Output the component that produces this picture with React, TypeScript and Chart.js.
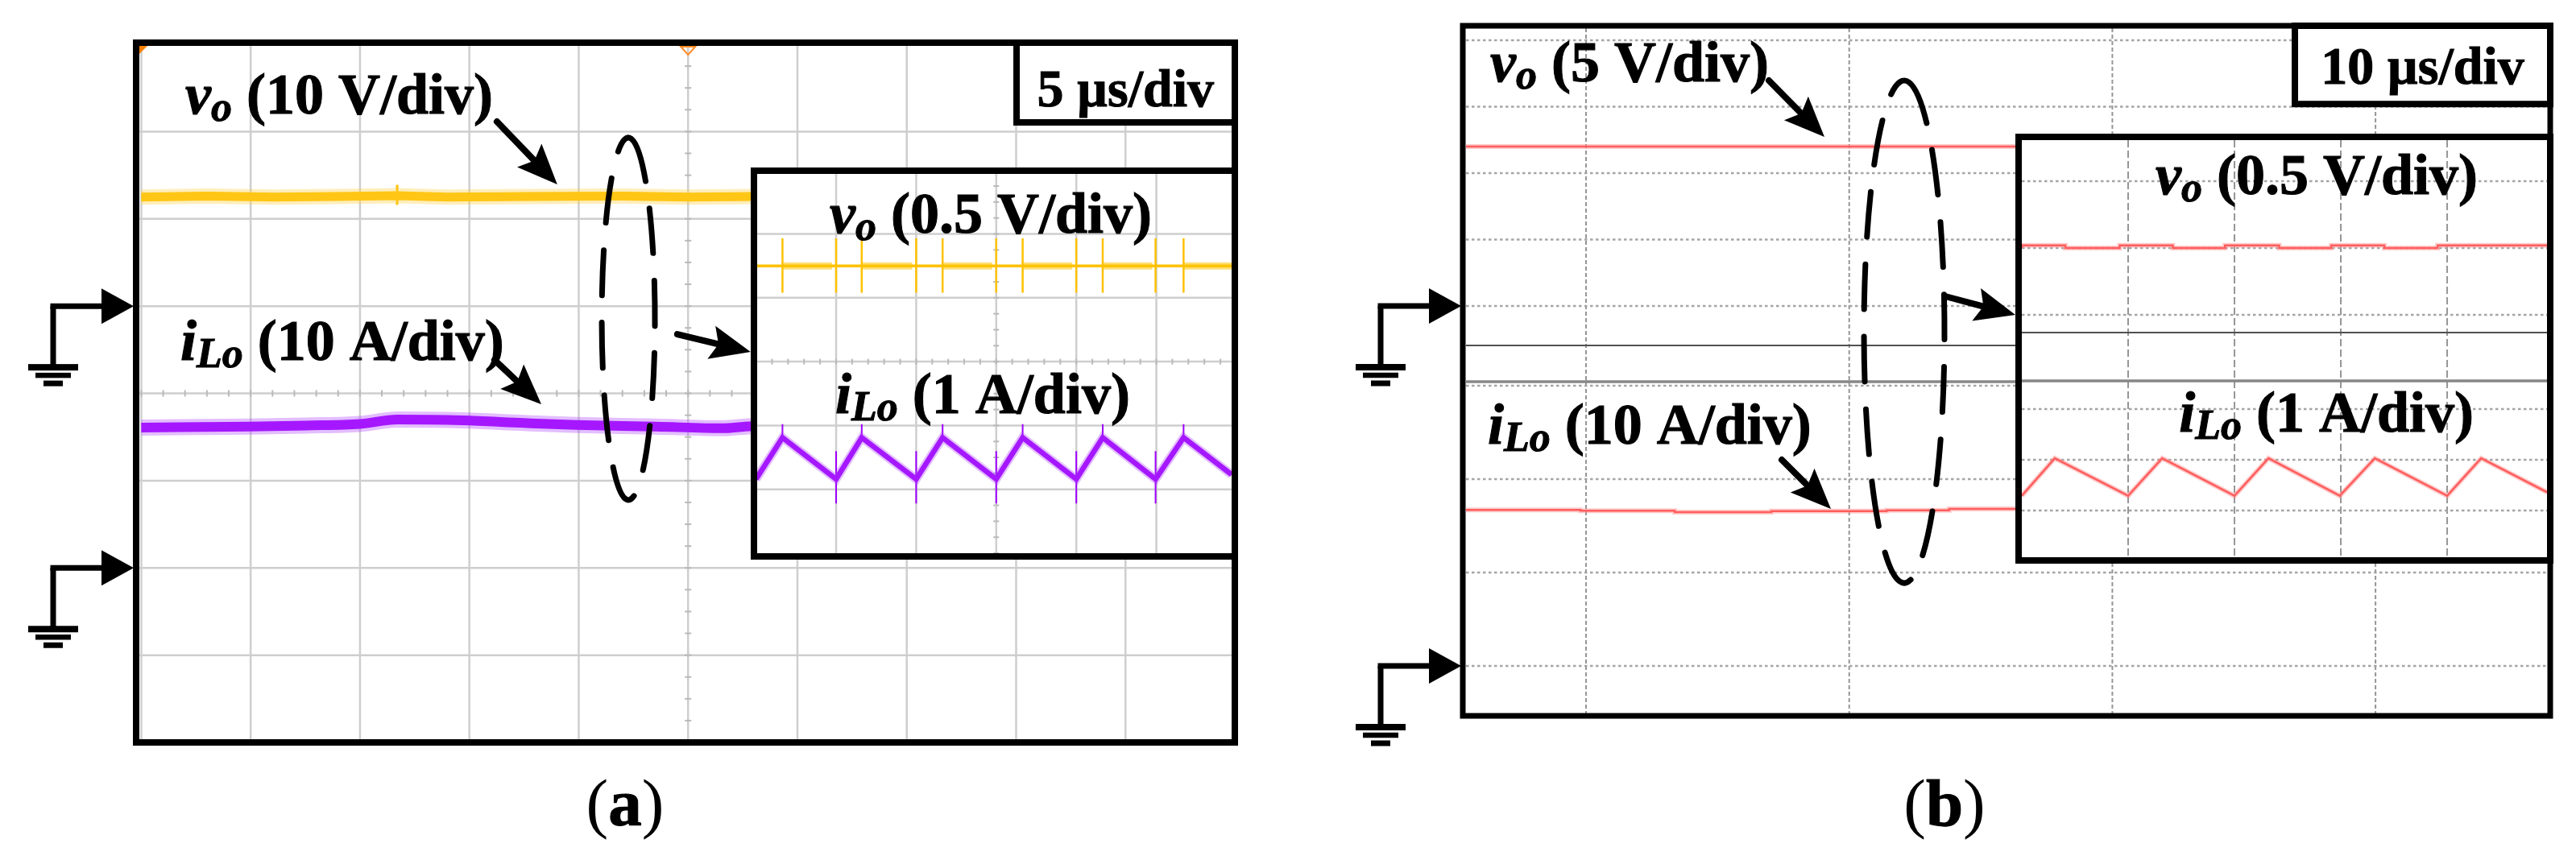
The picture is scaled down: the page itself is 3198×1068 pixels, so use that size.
import React, { useEffect, useRef } from 'react';
import { Chart, registerables } from 'chart.js';

Chart.register(...registerables);

/* ================= data ================= */
// (a) main screen: time in µs (5 µs/div), vo in V (10 V/div), iLo in A (10 A/div)
const A_VO_T_US = [0, 3, 6, 9, 11.7, 14, 18, 22, 25, 28.2];
const A_VO_V = [12.5, 12.6, 12.5, 12.55, 12.65, 12.5, 12.55, 12.6, 12.5, 12.55];
const A_VO_SPIKE_T_US = [11.7];
const A_VO_SPIKE_RANGE_V = [11.6, 13.9];
const A_ILO_T_US = [0, 4.96, 7.5, 10, 11.7, 14.7, 17.5, 19.9, 23.5, 26.6, 27.6, 28.2];
const A_ILO_A = [16.08, 16.2, 16.32, 16.5, 17.0, 16.9, 16.6, 16.38, 16.2, 16.0, 16.2, 16.26];

// (a) inset: x in divisions, vo 0.5 V/div, iLo 1 A/div
const AI_VO_X = [0, 5.94];
const AI_VO_V = [12.5, 12.5];
const AI_VO_SPIKE_X = [0.33, 1.0, 1.32, 2.0, 2.33, 3.0, 3.33, 4.0, 4.33, 4.99, 5.34];
const AI_VO_SPIKE_RANGE_V = [12.29, 12.715];
const AI_VO_RING_START_X = [0.33, 1.32, 2.33, 3.33, 4.33, 5.34];
const AI_VO_RING_END_X = [0.95, 1.95, 2.95, 3.95, 4.95, 5.94];
const AI_ILO_X = [0, 0.33, 1.0, 1.32, 2.0, 2.33, 3.0, 3.33, 4.0, 4.33, 4.99, 5.34, 5.94];
const AI_ILO_A = [15.96, 16.61, 15.96, 16.61, 15.96, 16.61, 15.96, 16.61, 15.96, 16.61, 15.96, 16.61, 16.03];
const AI_ILO_PEAK_X = [0.33, 1.32, 2.33, 3.33, 4.33, 5.34];
const AI_ILO_PEAK_SPIKE_A = [16.61, 16.82];
const AI_ILO_VALLEY_X = [1.0, 2.0, 3.0, 4.0, 4.99];
const AI_ILO_VALLEY_SPIKE_A = [15.58, 16.4];

// (b) main screen: time in µs (10 µs/div), vo 5 V/div, iLo 10 A/div
const B_VO_T_US = [-4.56, 16.5];
const B_VO_V = [12.0, 12.0];
const B_ILO_T_US = [-4.56, -0.21, 3.37, 7.04, 11.42, 13.8, 14.5, 16.5];
const B_ILO_A = [16.8, 16.71, 16.61, 16.47, 16.58, 16.66, 16.81, 16.81];

// (b) inset: x in divisions, vo 0.5 V/div, iLo 1 A/div
const BI_VO_X = [0, 0.41, 0.92, 1.42, 1.91, 2.42, 2.91, 3.41, 3.91, 4.41, 4.94];
const BI_VO_V = [12.0, 12.02, 12.0, 12.02, 12.0, 12.02, 12.0, 12.02, 12.0, 12.02, 12.02];
const BI_ILO_X = [0, 0.31, 1.0, 1.32, 2.0, 2.32, 2.99, 3.32, 4.0, 4.32, 4.94];
const BI_ILO_A = [16.29, 17.03, 16.29, 17.03, 16.29, 17.03, 16.29, 17.03, 16.29, 17.03, 16.36];

// grid values
const A_TIME_GRID_US = [0, 5, 10, 15, 20, 25, 30, 35, 40, 45, 50];
const A_DIV_GRID = [0, 1, 2, 3, 4, 5, 6, 7, 8];
const AI_DIV_GRID_X = [1, 2, 3, 4, 5];
const AI_DIV_GRID_Y = [1, 2, 3, 4, 5];
const B_TIME_GRID_US = [0, 10, 20, 30];
const B_VO_GRID_V = [0, 5, 10, 15, 20];
const B_ILO_GRID_A = [0, 10, 20, 30];
const BI_DIV_GRID_X = [1, 2, 3, 4];
const BI_VO_GRID_V = [11.5, 12.0, 12.5];
const BI_ILO_GRID_A = [16, 17, 18];

// texts
const A_TIMEBASE = '5 µs/div';
const B_TIMEBASE = '10 µs/div';
const A_VO_SCALE = '10 V/div';
const A_ILO_SCALE = '10 A/div';
const B_VO_SCALE = '5 V/div';
const B_ILO_SCALE = '10 A/div';
const INSET_VO_SCALE = '0.5 V/div';
const INSET_ILO_SCALE = '1 A/div';

// annotation anchors (in each chart's own scale units)
const A_VO_LABEL_AT = [2.01, 7.21];
const A_ILO_LABEL_AT = [1.79, 4.383];
const A_VO_ARROW = [16.26, 7.114, 19.02, 6.394];
const A_ILO_ARROW = [16.15, 4.383, 18.29, 3.875];
const A_ELLIPSE = [22.27, 4.854, 1.215, 2.076];
const A_ZOOM_ARROW = [24.51, 4.678, 27.86, 4.475];
const A_TIMEBOX = [40.02, 7.105];
const A_TIMEBASE_AT = [45, 7.292];
const A_CAPTION_AT = [22.12, -0.95];
const A_TRIGGER_US = 25;

const B_VO_LABEL_AT = [-3.642, 16.909];
const B_ILO_LABEL_AT = [-3.734, 23.793];
const B_VO_ARROW = [6.948, 16.97, 9.06, 12.727];
const B_ILO_ARROW = [7.438, 22.069, 9.305, 16.81];
const B_ELLIPSE = [12.091, -1.939, 1.53, 18.909];
const B_ZOOM_ARROW = [13.652, 0.727, 16.315, -0.667];
const B_TIMEBOX = [26.936, 15.2];
const B_TIMEBASE_AT = [31.788, 16.75];
const B_CAPTION_AT = [13.621, -17.07];
const B_SEPARATORS_V = [-2.97, -5.697];

const AI_VO_LABEL_AT = [2.931, 5.019];
const AI_ILO_LABEL_AT = [2.831, 2.192];
const BI_VO_LABEL_AT = [2.773, 12.404];
const BI_ILO_LABEL_AT = [2.864, 17.556];
const BI_SEPARATORS_V = [11.367, 11.006];

/* ================= styles ================= */
const SERIF = '"Liberation Serif", "Times New Roman", serif';
const LABEL_SIZE = 72;
const TIMEBASE_SIZE = 66;
const CAPTION_SIZE = 83;
const YELLOW = 'rgb(255,194,0)';
const YELLOW_FUZZ = 'rgba(255,205,60,0.35)';
const PURPLE = 'rgb(160,0,255)';
const PURPLE_FUZZ = 'rgba(175,70,255,0.35)';
const RED = 'rgb(255,55,55)';
const RED_FUZZ = 'rgba(255,140,140,0.45)';

/* ================= helpers ================= */
const pts = (xs: number[], ys: number[]) => xs.map((x, i) => ({ x, y: ys[i] }));
const spikes = (xs: number[], range: number[]) =>
  xs.flatMap((x) => [{ x, y: range[0] }, { x, y: range[1] }, { x, y: null as any }]);
const segs = (starts: number[], ends: number[], y: number) =>
  starts.flatMap((s, i) => [{ x: s, y }, { x: ends[i], y }, { x: ends[i], y: null as any }]);

const ds = (data: any[], yAxisID: string, color: string, width: number, extra: any = {}) => ({
  data, yAxisID, borderColor: color, backgroundColor: color, borderWidth: width,
  pointRadius: 0, fill: false, tension: 0, ...extra,
});

const lin = (min: number, max: number) => ({ type: 'linear', min, max, display: false });

function hline(ctx: any, x1: number, x2: number, y: number) {
  ctx.beginPath(); ctx.moveTo(x1, y); ctx.lineTo(x2, y); ctx.stroke();
}
function vline(ctx: any, x: number, y1: number, y2: number) {
  ctx.beginPath(); ctx.moveTo(x, y1); ctx.lineTo(x, y2); ctx.stroke();
}

type Part = { t: string; k: 'b' | 'bi' | 'sub' | 'r' };
function drawRich(ctx: any, parts: Part[], x: number, y: number, size: number, align: 'left' | 'center') {
  const font = (k: string) =>
    k === 'b' ? `bold ${size}px ${SERIF}` :
    k === 'bi' ? `italic bold ${size}px ${SERIF}` :
    k === 'sub' ? `italic bold ${Math.round(size * 0.72)}px ${SERIF}` :
    `${size}px ${SERIF}`;
  ctx.save();
  ctx.textBaseline = 'alphabetic';
  ctx.textAlign = 'left';
  ctx.fillStyle = '#000';
  ctx.strokeStyle = '#000';
  const widths = parts.map((p) => { ctx.font = font(p.k); return ctx.measureText(p.t).width; });
  const total = widths.reduce((a, b) => a + b, 0);
  let cx = align === 'center' ? x - total / 2 : x;
  parts.forEach((p, i) => {
    ctx.font = font(p.k);
    const yy = p.k === 'sub' ? y + size * 0.125 : y;
    ctx.fillText(p.t, cx, yy);
    if (p.k !== 'r') { ctx.lineWidth = 1.1; ctx.strokeText(p.t, cx, yy); }
    cx += widths[i];
  });
  ctx.restore();
}
const voParts = (s: string): Part[] => [{ t: 'v', k: 'bi' }, { t: 'o', k: 'sub' }, { t: ` (${s})`, k: 'b' }];
const iloParts = (s: string): Part[] => [{ t: 'i', k: 'bi' }, { t: 'Lo', k: 'sub' }, { t: ` (${s})`, k: 'b' }];
const capParts = (s: string): Part[] => [{ t: '(', k: 'r' }, { t: s, k: 'b' }, { t: ')', k: 'r' }];

function arrow(ctx: any, x1: number, y1: number, x2: number, y2: number) {
  const hl = 50, hw = 21, lw = 8;
  const a = Math.atan2(y2 - y1, x2 - x1);
  const c = Math.cos(a), s = Math.sin(a);
  const bx = x2 - hl * c, by = y2 - hl * s;
  ctx.save();
  ctx.strokeStyle = '#000'; ctx.fillStyle = '#000'; ctx.lineWidth = lw; ctx.lineCap = 'round';
  ctx.beginPath(); ctx.moveTo(x1, y1); ctx.lineTo(bx + 12 * c, by + 12 * s); ctx.stroke();
  ctx.beginPath();
  ctx.moveTo(x2, y2);
  ctx.lineTo(bx - hw * s, by + hw * c);
  ctx.lineTo(bx + 9 * c, by + 9 * s);
  ctx.lineTo(bx + hw * s, by - hw * c);
  ctx.closePath(); ctx.fill();
  ctx.restore();
}

function dashedEllipse(ctx: any, cx: number, cy: number, rx: number, ry: number) {
  ctx.save();
  ctx.strokeStyle = '#000'; ctx.lineWidth = 7; ctx.lineCap = 'round';
  ctx.setLineDash([56, 34]);
  ctx.beginPath(); ctx.ellipse(cx, cy, rx, ry, 0, -Math.PI / 2 + 0.12, Math.PI * 1.5 + 0.12); ctx.stroke();
  ctx.restore();
}

function ground(ctx: any, tipX: number, y: number) {
  ctx.save();
  ctx.fillStyle = '#000'; ctx.strokeStyle = '#000';
  ctx.beginPath(); ctx.moveTo(tipX, y); ctx.lineTo(tipX - 40, y - 22); ctx.lineTo(tipX - 40, y + 22); ctx.closePath(); ctx.fill();
  const sx = tipX - 100;
  ctx.lineWidth = 7; ctx.lineCap = 'butt';
  ctx.beginPath(); ctx.moveTo(sx - 3.5, y); ctx.lineTo(tipX - 38, y); ctx.stroke();
  ctx.beginPath(); ctx.moveTo(sx, y); ctx.lineTo(sx, y + 76); ctx.stroke();
  const bar = (dy: number, w: number, h: number) => ctx.fillRect(sx - w / 2, y + dy - h / 2, w, h);
  bar(76, 62, 8);
  bar(86, 44, 6.5);
  bar(96, 24, 7);
  ctx.restore();
}

function frame(ctx: any, l: number, t: number, r: number, b: number, lw: number) {
  ctx.save(); ctx.strokeStyle = '#000'; ctx.lineWidth = lw; ctx.lineJoin = 'miter';
  ctx.strokeRect(l, t, r - l, b - t); ctx.restore();
}
function whiteBox(ctx: any, l: number, t: number, r: number, b: number, lw: number) {
  ctx.save(); ctx.fillStyle = '#fff'; ctx.fillRect(l, t, r - l, b - t);
  ctx.strokeStyle = '#000'; ctx.lineWidth = lw; ctx.strokeRect(l, t, r - l, b - t); ctx.restore();
}
function plainText(ctx: any, s: string, x: number, y: number, size: number) {
  ctx.save(); ctx.fillStyle = '#000'; ctx.strokeStyle = '#000'; ctx.lineWidth = 1;
  ctx.font = `bold ${size}px ${SERIF}`;
  ctx.textAlign = 'center'; ctx.textBaseline = 'alphabetic';
  ctx.fillText(s, x, y); ctx.strokeText(s, x, y); ctx.restore();
}

function baseOptions(padding: any, scales: any) {
  return {
    responsive: false,
    animation: false,
    events: [],
    layout: { padding },
    plugins: { legend: { display: false }, tooltip: { enabled: false } },
    elements: { point: { radius: 0 }, line: { tension: 0 } },
    scales,
  };
}

/* ================= chart (a) main ================= */
function configA() {
  const plugin = {
    id: 'panelA',
    beforeDatasetsDraw(c: any) {
      const { ctx, chartArea: ca } = c; const x = c.scales.x, yd = c.scales.yd;
      ctx.save();
      ctx.strokeStyle = 'rgb(206,206,206)'; ctx.lineWidth = 2.5;
      A_TIME_GRID_US.forEach((t) => vline(ctx, x.getPixelForValue(t), ca.top, ca.bottom));
      A_DIV_GRID.forEach((d) => hline(ctx, ca.left, ca.right, yd.getPixelForValue(d)));
      ctx.strokeStyle = 'rgb(185,185,185)'; ctx.lineWidth = 2;
      const cx = x.getPixelForValue(25), cy = yd.getPixelForValue(4);
      for (let t = 0; t <= 50; t += 1) vline(ctx, x.getPixelForValue(t), cy - 4, cy + 4);
      for (let d = 0; d <= 8; d += 0.25) hline(ctx, cx - 4, cx + 4, yd.getPixelForValue(d));
      ctx.restore();
    },
    afterDatasetsDraw(c: any) {
      const { ctx, chartArea: ca } = c;
      const x = c.scales.x, yd = c.scales.yd, yv = c.scales.yv, yi = c.scales.yi;
      const X = (v: number) => x.getPixelForValue(v), Y = (v: number) => yd.getPixelForValue(v);
      // trigger markers
      ctx.save();
      ctx.fillStyle = 'rgb(255,128,0)';
      ctx.beginPath(); ctx.moveTo(ca.left, ca.top); ctx.lineTo(ca.left + 13, ca.top); ctx.lineTo(ca.left, ca.top + 13); ctx.closePath(); ctx.fill();
      const tx = X(A_TRIGGER_US);
      ctx.strokeStyle = 'rgb(255,140,40)'; ctx.lineWidth = 2;
      ctx.beginPath(); ctx.moveTo(tx - 9, ca.top + 3); ctx.lineTo(tx + 9, ca.top + 3); ctx.lineTo(tx, ca.top + 13); ctx.closePath(); ctx.stroke();
      ctx.restore();
      frame(ctx, ca.left - 3, ca.top - 2, ca.right, ca.bottom, 8);
      whiteBox(ctx, X(A_TIMEBOX[0]), ca.top - 2, ca.right, Y(A_TIMEBOX[1]), 8);
      plainText(ctx, A_TIMEBASE, X(A_TIMEBASE_AT[0]), Y(A_TIMEBASE_AT[1]), TIMEBASE_SIZE);
      drawRich(ctx, voParts(A_VO_SCALE), X(A_VO_LABEL_AT[0]), Y(A_VO_LABEL_AT[1]), LABEL_SIZE, 'left');
      drawRich(ctx, iloParts(A_ILO_SCALE), X(A_ILO_LABEL_AT[0]), Y(A_ILO_LABEL_AT[1]), LABEL_SIZE, 'left');
      arrow(ctx, X(A_VO_ARROW[0]), Y(A_VO_ARROW[1]), X(A_VO_ARROW[2]), Y(A_VO_ARROW[3]));
      arrow(ctx, X(A_ILO_ARROW[0]), Y(A_ILO_ARROW[1]), X(A_ILO_ARROW[2]), Y(A_ILO_ARROW[3]));
      const ecx = X(A_ELLIPSE[0]), ecy = Y(A_ELLIPSE[1]);
      dashedEllipse(ctx, ecx, ecy, X(A_ELLIPSE[0] + A_ELLIPSE[2]) - ecx, ecy - Y(A_ELLIPSE[1] + A_ELLIPSE[3]));
      arrow(ctx, X(A_ZOOM_ARROW[0]), Y(A_ZOOM_ARROW[1]), X(A_ZOOM_ARROW[2]), Y(A_ZOOM_ARROW[3]));
      ground(ctx, ca.left - 6, yv.getPixelForValue(0));
      ground(ctx, ca.left - 6, yi.getPixelForValue(0));
      drawRich(ctx, capParts('a'), X(A_CAPTION_AT[0]), Y(A_CAPTION_AT[1]), CAPTION_SIZE, 'center');
    },
  };
  return {
    type: 'line',
    data: {
      datasets: [
        ds(pts(A_VO_T_US, A_VO_V), 'yv', YELLOW_FUZZ, 19),
        ds(pts(A_VO_T_US, A_VO_V), 'yv', YELLOW, 11),
        ds(spikes(A_VO_SPIKE_T_US, A_VO_SPIKE_RANGE_V), 'yv', YELLOW, 3),
        ds(pts(A_ILO_T_US, A_ILO_A), 'yi', PURPLE_FUZZ, 20, { cubicInterpolationMode: 'monotone' }),
        ds(pts(A_ILO_T_US, A_ILO_A), 'yi', PURPLE, 12, { cubicInterpolationMode: 'monotone' }),
      ],
    },
    options: baseOptions({ left: 172, top: 55, right: 67, bottom: 146 }, {
      x: lin(-0.125, 50), yv: lin(-50, 30), yi: lin(-20, 60), yd: lin(0, 8),
    }),
    plugins: [plugin],
  };
}

/* ================= chart (a) inset ================= */
function configAI() {
  const plugin = {
    id: 'insetA',
    beforeDatasetsDraw(c: any) {
      const { ctx, chartArea: ca } = c; const x = c.scales.x, yd = c.scales.yd;
      ctx.save();
      ctx.fillStyle = '#fff'; ctx.fillRect(ca.left - 8, ca.top - 8, ca.right - ca.left + 16, ca.bottom - ca.top + 16);
      ctx.strokeStyle = 'rgb(206,206,206)'; ctx.lineWidth = 2.5;
      AI_DIV_GRID_X.forEach((d) => vline(ctx, x.getPixelForValue(d), ca.top, ca.bottom));
      AI_DIV_GRID_Y.forEach((d) => hline(ctx, ca.left, ca.right, yd.getPixelForValue(d)));
      ctx.strokeStyle = 'rgb(185,185,185)'; ctx.lineWidth = 2;
      const cx = x.getPixelForValue(3), cy = yd.getPixelForValue(3);
      for (let t = 0; t <= 6; t += 0.2) vline(ctx, x.getPixelForValue(t), cy - 3.5, cy + 3.5);
      for (let d = 0; d <= 6; d += 0.25) hline(ctx, cx - 3.5, cx + 3.5, yd.getPixelForValue(d));
      ctx.restore();
    },
    afterDatasetsDraw(c: any) {
      const { ctx, chartArea: ca } = c; const x = c.scales.x, yd = c.scales.yd;
      frame(ctx, ca.left - 4, ca.top - 4, ca.right + 4, ca.bottom + 4, 8);
      drawRich(ctx, voParts(INSET_VO_SCALE), x.getPixelForValue(AI_VO_LABEL_AT[0]), yd.getPixelForValue(AI_VO_LABEL_AT[1]), LABEL_SIZE, 'center');
      drawRich(ctx, iloParts(INSET_ILO_SCALE), x.getPixelForValue(AI_ILO_LABEL_AT[0]), yd.getPixelForValue(AI_ILO_LABEL_AT[1]), LABEL_SIZE, 'center');
    },
  };
  return {
    type: 'line',
    data: {
      datasets: [
        ds(segs(AI_VO_RING_START_X, AI_VO_RING_END_X, AI_VO_V[0]), 'yv', 'rgba(255,194,0,0.55)', 9),
        ds(pts(AI_VO_X, AI_VO_V), 'yv', YELLOW, 3.5),
        ds(spikes(AI_VO_SPIKE_X, AI_VO_SPIKE_RANGE_V), 'yv', YELLOW, 2.5),
        ds(pts(AI_ILO_X, AI_ILO_A), 'yi', PURPLE_FUZZ, 11),
        ds(pts(AI_ILO_X, AI_ILO_A), 'yi', PURPLE, 6.5),
        ds(spikes(AI_ILO_PEAK_X, AI_ILO_PEAK_SPIKE_A), 'yi', PURPLE, 2),
        ds(spikes(AI_ILO_VALLEY_X, AI_ILO_VALLEY_SPIKE_A), 'yi', PURPLE, 2),
      ],
    },
    options: baseOptions({ left: 20, top: 20, right: 21, bottom: 19 }, {
      x: lin(0.014, 5.94), yv: lin(10.25, 13.22), yi: lin(14.8, 20.74), yd: lin(0, 5.94),
    }),
    plugins: [plugin],
  };
}

/* ================= chart (b) main ================= */
function configB() {
  const plugin = {
    id: 'panelB',
    beforeDatasetsDraw(c: any) {
      const { ctx, chartArea: ca } = c; const x = c.scales.x, yv = c.scales.yv, yi = c.scales.yi;
      ctx.save();
      ctx.strokeStyle = 'rgb(150,150,150)'; ctx.lineWidth = 2; ctx.setLineDash([5, 3]);
      B_TIME_GRID_US.forEach((t) => vline(ctx, x.getPixelForValue(t), ca.top, ca.bottom));
      ctx.strokeStyle = 'rgb(165,165,165)'; ctx.lineWidth = 2.5; ctx.setLineDash([3.5, 3.5]);
      B_VO_GRID_V.forEach((v) => hline(ctx, ca.left, ca.right, yv.getPixelForValue(v)));
      B_ILO_GRID_A.forEach((a) => hline(ctx, ca.left, ca.right, yi.getPixelForValue(a)));
      ctx.setLineDash([]);
      ctx.strokeStyle = 'rgb(80,80,80)'; ctx.lineWidth = 2;
      hline(ctx, ca.left, ca.right, yv.getPixelForValue(B_SEPARATORS_V[0]));
      ctx.strokeStyle = 'rgb(135,135,135)'; ctx.lineWidth = 3.5;
      hline(ctx, ca.left, ca.right, yv.getPixelForValue(B_SEPARATORS_V[1]));
      ctx.restore();
    },
    afterDatasetsDraw(c: any) {
      const { ctx, chartArea: ca } = c;
      const x = c.scales.x, yv = c.scales.yv, yi = c.scales.yi;
      const X = (v: number) => x.getPixelForValue(v);
      const V = (v: number) => yv.getPixelForValue(v);
      const I = (v: number) => yi.getPixelForValue(v);
      frame(ctx, ca.left - 4, ca.top - 3, ca.right, ca.bottom, 7);
      whiteBox(ctx, X(B_TIMEBOX[0]), ca.top - 3, ca.right, V(B_TIMEBOX[1]), 8);
      plainText(ctx, B_TIMEBASE, X(B_TIMEBASE_AT[0]), V(B_TIMEBASE_AT[1]), TIMEBASE_SIZE);
      drawRich(ctx, voParts(B_VO_SCALE), X(B_VO_LABEL_AT[0]), V(B_VO_LABEL_AT[1]), LABEL_SIZE, 'left');
      drawRich(ctx, iloParts(B_ILO_SCALE), X(B_ILO_LABEL_AT[0]), I(B_ILO_LABEL_AT[1]), LABEL_SIZE, 'left');
      arrow(ctx, X(B_VO_ARROW[0]), V(B_VO_ARROW[1]), X(B_VO_ARROW[2]), V(B_VO_ARROW[3]));
      arrow(ctx, X(B_ILO_ARROW[0]), I(B_ILO_ARROW[1]), X(B_ILO_ARROW[2]), I(B_ILO_ARROW[3]));
      const ecx = X(B_ELLIPSE[0]), ecy = V(B_ELLIPSE[1]);
      dashedEllipse(ctx, ecx, ecy, X(B_ELLIPSE[0] + B_ELLIPSE[2]) - ecx, ecy - V(B_ELLIPSE[1] + B_ELLIPSE[3]));
      arrow(ctx, X(B_ZOOM_ARROW[0]), V(B_ZOOM_ARROW[1]), X(B_ZOOM_ARROW[2]), V(B_ZOOM_ARROW[3]));
      ground(ctx, ca.left - 6, V(0));
      ground(ctx, ca.left - 6, I(0));
      drawRich(ctx, capParts('b'), X(B_CAPTION_AT[0]), I(B_CAPTION_AT[1]), CAPTION_SIZE, 'center');
    },
  };
  return {
    type: 'line',
    data: {
      datasets: [
        ds(pts(B_VO_T_US, B_VO_V), 'yv', RED_FUZZ, 6),
        ds(pts(B_VO_T_US, B_VO_V), 'yv', RED, 2.5),
        ds(pts(B_ILO_T_US, B_ILO_A), 'yi', RED_FUZZ, 6, { stepped: 'after' }),
        ds(pts(B_ILO_T_US, B_ILO_A), 'yi', RED, 2.5, { stepped: 'after' }),
      ],
    },
    options: baseOptions({ left: 220, top: 35, right: 32, bottom: 179 }, {
      x: lin(-4.561, 36.639), yv: lin(-30.848, 20.909), yi: lin(-5.345, 68.276),
    }),
    plugins: [plugin],
  };
}

/* ================= chart (b) inset ================= */
function configBI() {
  const plugin = {
    id: 'insetB',
    beforeDatasetsDraw(c: any) {
      const { ctx, chartArea: ca } = c; const x = c.scales.x, yv = c.scales.yv, yi = c.scales.yi;
      ctx.save();
      ctx.fillStyle = '#fff'; ctx.fillRect(ca.left - 8, ca.top - 8, ca.right - ca.left + 16, ca.bottom - ca.top + 16);
      ctx.strokeStyle = 'rgb(150,150,150)'; ctx.lineWidth = 2; ctx.setLineDash([9, 4]);
      BI_DIV_GRID_X.forEach((d) => vline(ctx, x.getPixelForValue(d), ca.top, ca.bottom));
      ctx.strokeStyle = 'rgb(165,165,165)'; ctx.lineWidth = 2.5; ctx.setLineDash([3.5, 3.5]);
      BI_VO_GRID_V.forEach((v) => hline(ctx, ca.left, ca.right, yv.getPixelForValue(v)));
      BI_ILO_GRID_A.forEach((a) => hline(ctx, ca.left, ca.right, yi.getPixelForValue(a)));
      ctx.setLineDash([]);
      ctx.strokeStyle = 'rgb(80,80,80)'; ctx.lineWidth = 2;
      hline(ctx, ca.left, ca.right, yv.getPixelForValue(BI_SEPARATORS_V[0]));
      ctx.strokeStyle = 'rgb(135,135,135)'; ctx.lineWidth = 3.5;
      hline(ctx, ca.left, ca.right, yv.getPixelForValue(BI_SEPARATORS_V[1]));
      ctx.restore();
    },
    afterDatasetsDraw(c: any) {
      const { ctx, chartArea: ca } = c; const x = c.scales.x, yv = c.scales.yv, yi = c.scales.yi;
      frame(ctx, ca.left - 4, ca.top - 4, ca.right + 4, ca.bottom + 4, 8);
      drawRich(ctx, voParts(INSET_VO_SCALE), x.getPixelForValue(BI_VO_LABEL_AT[0]), yv.getPixelForValue(BI_VO_LABEL_AT[1]), LABEL_SIZE, 'center');
      drawRich(ctx, iloParts(INSET_ILO_SCALE), x.getPixelForValue(BI_ILO_LABEL_AT[0]), yi.getPixelForValue(BI_ILO_LABEL_AT[1]), LABEL_SIZE, 'center');
    },
  };
  return {
    type: 'line',
    data: {
      datasets: [
        ds(pts(BI_VO_X, BI_VO_V), 'yv', RED_FUZZ, 6, { stepped: 'after' }),
        ds(pts(BI_VO_X, BI_VO_V), 'yv', RED, 2.5, { stepped: 'after' }),
        ds(pts(BI_ILO_X, BI_ILO_A), 'yi', RED_FUZZ, 6),
        ds(pts(BI_ILO_X, BI_ILO_A), 'yi', RED, 2.5),
      ],
    },
    options: baseOptions({ left: 20, top: 20, right: 28, bottom: 22 }, {
      x: lin(0, 4.939), yv: lin(9.687, 12.807), yi: lin(15.079, 23.302),
    }),
    plugins: [plugin],
  };
}

/* ================= component ================= */
export default function App() {
  const aRef = useRef<HTMLCanvasElement>(null);
  const bRef = useRef<HTMLCanvasElement>(null);
  const aiRef = useRef<HTMLCanvasElement>(null);
  const biRef = useRef<HTMLCanvasElement>(null);

  useEffect(() => {
    document.body.style.margin = '0';
    const charts = [
      new Chart(aRef.current as any, configA() as any),
      new Chart(bRef.current as any, configB() as any),
      new Chart(aiRef.current as any, configAI() as any),
      new Chart(biRef.current as any, configBI() as any),
    ];
    return () => charts.forEach((c) => c.destroy());
  }, []);

  const abs = (left: number, top: number, w: number, h: number): React.CSSProperties => ({
    position: 'absolute', left, top, width: w, height: h,
  });

  return (
    <div style={{ position: 'relative', width: 3198, height: 1068, background: '#fff', overflow: 'hidden' }}>
      <canvas ref={aRef} width={1600} height={1068} style={abs(0, 0, 1600, 1068)} />
      <canvas ref={bRef} width={1598} height={1068} style={abs(1600, 0, 1598, 1068)} />
      <canvas ref={aiRef} width={630} height={510} style={abs(920, 196, 630, 510)} />
      <canvas ref={biRef} width={700} height={560} style={abs(2490, 154, 700, 560)} />
    </div>
  );
}
